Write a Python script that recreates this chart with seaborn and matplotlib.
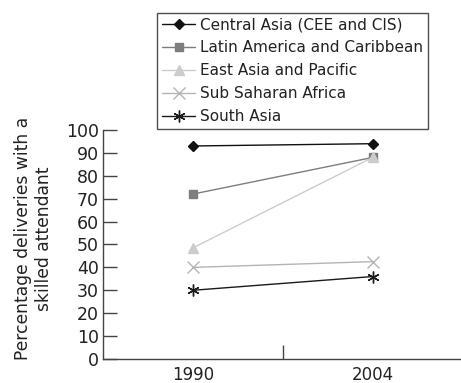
import pandas as pd
import matplotlib
matplotlib.use('Agg')
import matplotlib.pyplot as plt
import seaborn as sns

years = ['1990', '2004']
regions = ['Central Asia (CEE and CIS)', 'Latin America and Caribbean',
           'East Asia and Pacific', 'Sub Saharan Africa', 'South Asia']
central_asia = [93, 94]
latin_america = [72, 88]
east_asia = [48.5, 88]
sub_saharan = [40, 42.5]
south_asia = [30, 36]

colors = ['#111111', '#7d7d7d', '#cccccc', '#b4b4b4', '#1a1a1a']
markers = ['D', 's', '^', 'x', (6, 2, 0)]
msizes = [5.5, 6, 7, 8, 8.5]

values = [central_asia, latin_america, east_asia, sub_saharan, south_asia]

sns.set_style('white')
plt.rcParams['font.family'] = ['DejaVu Sans']

fig = plt.figure(figsize=(4.61, 3.83), dpi=100)
ax = fig.add_axes([0.2234, 0.0627, 0.78, 0.598])

for r, v, c, m, ms in zip(regions, values, colors, markers, msizes):
    d = pd.DataFrame({'Year': years, 'Value': v})
    sns.lineplot(data=d, x='Year', y='Value', color=c, marker=m, label=r,
                 sort=False, linewidth=1.0, markersize=ms, markeredgewidth=1.0,
                 markeredgecolor=c, ax=ax)

ax.set_xlim(-0.5, 1.5)
ax.set_ylim(0, 100)
ax.set_yticks(range(0, 101, 10))
ax.set_xticks([0, 1])
ax.set_xticks([0.5], minor=True)
ax.tick_params(axis='x', which='major', bottom=True, length=0, labelsize=12,
               labelcolor='#222222', pad=5)
ax.tick_params(axis='x', which='minor', bottom=True, direction='in', length=10,
               width=1.0, color='#444444')
ax.tick_params(axis='y', left=True, direction='in', length=10, width=1.0, color='#444444',
               labelsize=12.5, labelcolor='#222222', pad=3)

for s in ['top', 'right']:
    ax.spines[s].set_visible(False)
for s in ['left', 'bottom']:
    ax.spines[s].set_color('#444444')
    ax.spines[s].set_linewidth(1.0)

ax.set_xlabel('')
ax.set_ylabel('Percentage deliveries with a\nskilled attendant', fontsize=12.3,
              color='#222222', linespacing=1.25)
ax.yaxis.set_label_coords(-0.138, 0.526)

leg = ax.legend(loc='lower left', bbox_to_anchor=(0.151, 1.005),
                frameon=True, fancybox=False, edgecolor='#222222', fontsize=11,
                handlelength=2.2, handletextpad=0.3, labelspacing=0.52,
                borderpad=0.3, borderaxespad=0)
leg.get_frame().set_linewidth(1.0)
for t in leg.get_texts():
    t.set_color('#222222')

fig.savefig('out.png', dpi=100)
